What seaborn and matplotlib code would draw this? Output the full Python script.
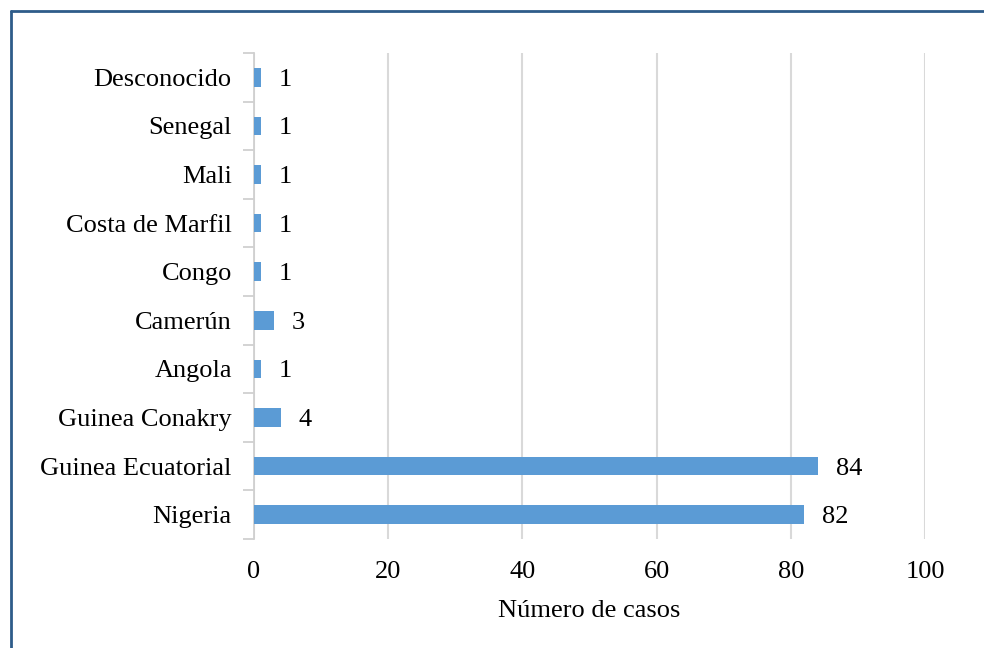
import matplotlib
matplotlib.use("Agg")
import matplotlib.pyplot as plt
from matplotlib.lines import Line2D
import seaborn as sns
import pandas as pd

paises = ["Desconocido", "Senegal", "Mali", "Costa de Marfil", "Congo",
          "Camerún", "Angola", "Guinea Conakry", "Guinea Ecuatorial", "Nigeria"]
casos = [1, 1, 1, 1, 1, 3, 1, 4, 84, 82]
x_ticks = [0, 20, 40, 60, 80, 100]

df = pd.DataFrame({"pais": paises, "casos": casos})

sns.set_theme(style="white")
plt.rcParams["font.family"] = ["Liberation Serif", "DejaVu Serif"]

FS = 19

fig = plt.figure(figsize=(9.84, 6.48), dpi=100)
ax = fig.add_axes([254 / 984, 1 - 539 / 648, (925 - 254) / 984, (539 - 53) / 648])

sns.barplot(data=df, x="casos", y="pais", orient="h", color="#5B9BD5",
            saturation=1, width=0.38, linewidth=0, ax=ax, zorder=3)

ax.set_xlim(0, 100)
ax.set_ylim(len(paises) - 0.5, -0.5)
ax.set_xticks(x_ticks)
ax.set_xticklabels([str(t) for t in x_ticks], fontsize=FS, color="black")
ax.tick_params(axis="x", length=0, pad=16)
ax.tick_params(axis="y", which="major", length=0, pad=16, labelsize=FS, labelcolor="black")
ax.set_yticks([i - 0.5 for i in range(len(paises) + 1)], minor=True)
ax.tick_params(axis="y", which="minor", length=8, width=1.3, color="#D0D0D0", left=True)

ax.xaxis.grid(True, color="#D9D9D9", linewidth=1.5, zorder=0)
ax.yaxis.grid(False)
ax.set_axisbelow(True)
for side in ["top", "right", "bottom"]:
    ax.spines[side].set_visible(False)
ax.spines["left"].set_color("#D0D0D0")
ax.spines["left"].set_linewidth(1.3)

ax.set_xlabel("Número de casos", fontsize=FS, color="black", labelpad=12)
ax.set_ylabel("")

for i, v in enumerate(casos):
    ax.annotate(str(v), xy=(v, i), xytext=(13, 0), textcoords="offset points",
                ha="left", va="center_baseline", fontsize=FS, color="black")

# outer frame (top and left edges)
frame_color = "#2E5C8A"
fig.add_artist(Line2D([11 / 984, 11 / 984], [0, 1 - 11 / 648],
                      transform=fig.transFigure, color=frame_color, linewidth=2))
fig.add_artist(Line2D([11 / 984, 1], [1 - 11 / 648, 1 - 11 / 648],
                      transform=fig.transFigure, color=frame_color, linewidth=2))

fig.savefig("out.png", dpi=100, facecolor="white")
